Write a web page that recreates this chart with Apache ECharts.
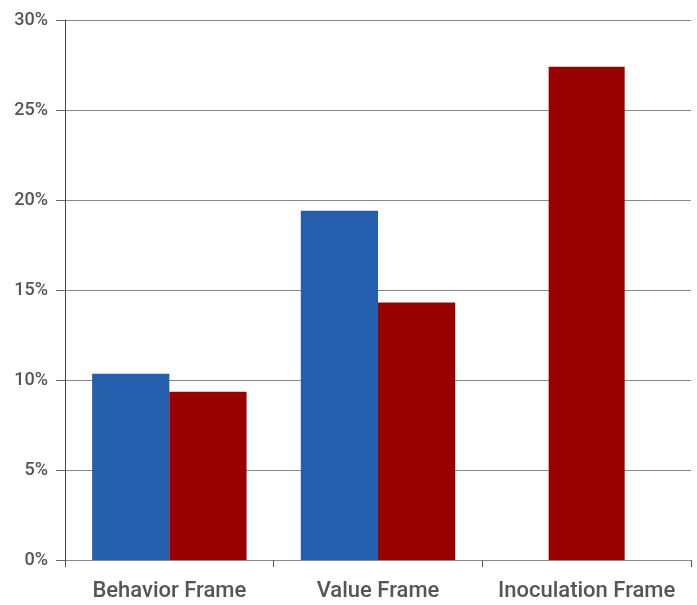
<!DOCTYPE html>
<html>
<head>
<meta charset="utf-8">
<script src="https://cdn.jsdelivr.net/npm/echarts@6/dist/echarts.min.js"></script>
<style>
  html, body { margin: 0; padding: 0; background: #fff; }
  #chart { width: 697px; height: 605px; }
</style>
</head>
<body>
<div id="chart"></div>
<script>
// Share of respondents by message frame
const categories = ['Behavior Frame', 'Value Frame', 'Inoculation Frame'];
const blueValues = [10.35, 19.4, null];
const redValues = [9.35, 14.3, null];
// Inoculation has only the red measure, drawn centred in its slot
const redSoloValues = [null, null, 27.4];
const yTicks = [0, 5, 10, 15, 20, 25, 30];

const FONT = 'Roboto, "Liberation Sans", sans-serif';
const BLUE = '#235fad';
const RED = '#990000';

const chart = echarts.init(document.getElementById('chart'));
chart.setOption({
  animation: false,
  grid: { left: 65, right: 6, top: 20, bottom: 45 },
  xAxis: [
    {
      type: 'category',
      data: categories,
      axisLine: { show: true, lineStyle: { color: '#888', width: 1 } },
      axisTick: { show: true, length: 7, interval: 0, lineStyle: { color: '#555' } },
      axisLabel: {
        interval: 0, color: '#555', fontFamily: FONT, fontSize: 22,
        fontWeight: 500, margin: 20
      }
    },
    {
      type: 'category',
      data: categories,
      show: false
    }
  ],
  yAxis: {
    type: 'value',
    min: yTicks[0],
    max: yTicks[yTicks.length - 1],
    interval: 5,
    axisLine: { show: true, lineStyle: { color: '#444', width: 1 } },
    axisTick: { show: true, length: 9, lineStyle: { color: '#666' } },
    splitLine: { show: true, lineStyle: { color: '#888', width: 1 } },
    axisLabel: {
      color: '#555', fontFamily: FONT, fontSize: 18, fontWeight: 500, margin: 17,
      formatter: v => v + '%'
    }
  },
  series: [
    {
      type: 'bar', xAxisIndex: 0, data: blueValues,
      itemStyle: { color: BLUE }, barGap: '0%', barCategoryGap: '26%'
    },
    {
      type: 'bar', xAxisIndex: 0, data: redValues,
      itemStyle: { color: RED }, barGap: '0%', barCategoryGap: '26%'
    },
    {
      type: 'bar', xAxisIndex: 1, data: redSoloValues,
      itemStyle: { color: RED }, barWidth: 76
    }
  ]
});
</script>
</body>
</html>
